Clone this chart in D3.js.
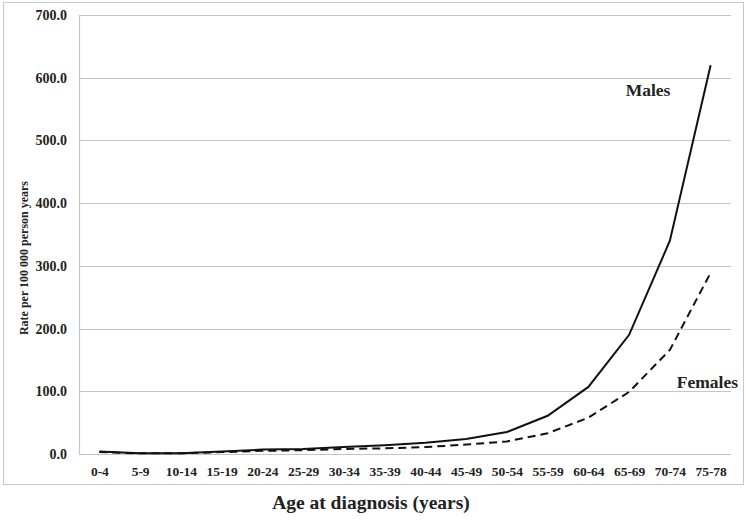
<!DOCTYPE html>
<html lang="en">
<head>
<meta charset="utf-8">
<title>Rate per 100 000 person years by age</title>
<script src="https://cdnjs.cloudflare.com/ajax/libs/d3/7.8.5/d3.min.js"></script>
<style>
  body { margin: 0; background: #fff; }
  svg text { font-family: "Liberation Serif", "Times New Roman", serif; font-weight: bold; fill: #222; }
</style>
</head>
<body>
<div id="chart"></div>
<script>
// age groups
var ageGroups = ["0-4", "5-9", "10-14", "15-19", "20-24", "25-29", "30-34", "35-39",
  "40-44", "45-49", "50-54", "55-59", "60-64", "65-69", "70-74", "75-78"];
// rates per 100 000 person years
var males = [4, 1, 1, 4, 7, 8, 11, 14, 18, 24, 35, 61, 107, 190, 340, 620];
var females = [3, 1, 1, 3, 5, 6, 8, 9, 11, 15, 20, 33, 58, 99, 166, 289];
var yTicks = [0, 100, 200, 300, 400, 500, 600, 700];

var width = 746, height = 525;
var plotLeft = 79, plotRight = 731, plotTop = 15, plotBottom = 454;

var svg = d3.select("#chart").append("svg")
  .attr("width", width)
  .attr("height", height);

// frame round the plot
svg.append("rect")
  .attr("x", 3.5).attr("y", 2.5)
  .attr("width", 740).attr("height", 482)
  .attr("fill", "none")
  .attr("stroke", "#c8c8c8");

var x = d3.scalePoint()
  .domain(ageGroups)
  .range([plotLeft, plotRight])
  .padding(0.5);

var y = d3.scaleLinear()
  .domain([0, 700])
  .range([plotBottom, plotTop]);

// grid lines
svg.append("g")
  .selectAll("line")
  .data(yTicks)
  .enter().append("line")
    .attr("x1", plotLeft).attr("x2", plotRight)
    .attr("y1", function(d) { return Math.round(y(d)) + 0.5; })
    .attr("y2", function(d) { return Math.round(y(d)) + 0.5; })
    .attr("stroke", "#c4c4c4")
    .attr("stroke-width", 1.2);

// y axis line
svg.append("line")
  .attr("x1", plotLeft + 0.5).attr("x2", plotLeft + 0.5)
  .attr("y1", plotTop).attr("y2", plotBottom)
  .attr("stroke", "#c4c4c4")
  .attr("stroke-width", 1.2);

// y tick labels
var yAxis = svg.append("g")
  .attr("transform", "translate(" + plotLeft + ",0)")
  .call(d3.axisLeft(y).tickValues(yTicks).tickSize(0).tickPadding(12)
    .tickFormat(d3.format(".1f")));
yAxis.select(".domain").remove();
yAxis.selectAll("text")
  .style("font-size", "14px")
  .style("font-family", "Liberation Serif, serif")
  .style("font-weight", "bold")
  .attr("fill", "#222");

// x tick labels
var xAxis = svg.append("g")
  .attr("transform", "translate(0," + plotBottom + ")")
  .call(d3.axisBottom(x).tickSize(0).tickPadding(12));
xAxis.select(".domain").remove();
xAxis.selectAll("text")
  .style("font-size", "13.5px")
  .style("font-family", "Liberation Serif, serif")
  .style("font-weight", "bold")
  .attr("fill", "#222");

var line = d3.line()
  .x(function(d, i) { return x(ageGroups[i]); })
  .y(function(d) { return y(d); });

svg.append("path")
  .datum(females)
  .attr("d", line)
  .attr("fill", "none")
  .attr("stroke", "#111")
  .attr("stroke-width", 2)
  .attr("stroke-dasharray", "8,5");

svg.append("path")
  .datum(males)
  .attr("d", line)
  .attr("fill", "none")
  .attr("stroke", "#111")
  .attr("stroke-width", 2);

// series labels
svg.append("text")
  .attr("x", 648).attr("y", 96)
  .attr("text-anchor", "middle")
  .style("font-size", "17.5px")
  .text("Males");

svg.append("text")
  .attr("x", 738).attr("y", 388)
  .attr("text-anchor", "end")
  .style("font-size", "17.5px")
  .text("Females");

// axis titles
svg.append("text")
  .attr("transform", "translate(28,258) rotate(-90)")
  .attr("text-anchor", "middle")
  .style("font-size", "12px")
  .text("Rate per 100 000 person years");

svg.append("text")
  .attr("x", 371).attr("y", 509)
  .attr("text-anchor", "middle")
  .style("font-size", "19.5px")
  .text("Age at diagnosis (years)");
</script>
</body>
</html>
